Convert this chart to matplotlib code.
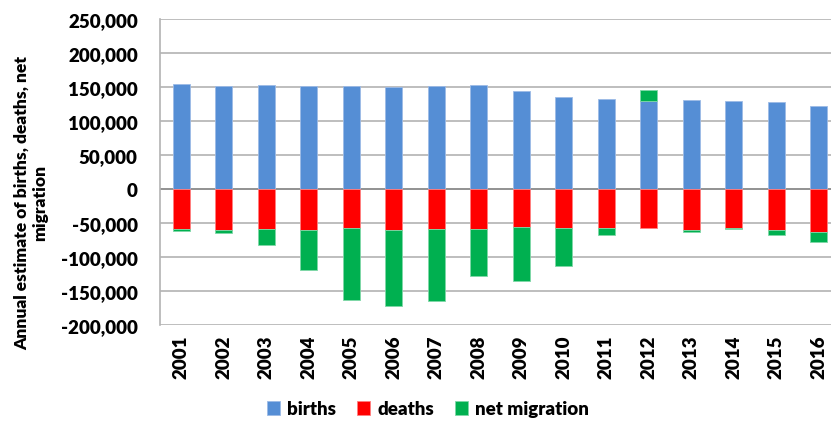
import numpy as np
import matplotlib
matplotlib.use("Agg")
import matplotlib.pyplot as plt
from matplotlib.ticker import FuncFormatter

years = [str(y) for y in range(2001, 2017)]
births = [154900, 151900, 152900, 151900, 151900, 150400, 151900, 152400,
          144100, 135700, 132800, 129400, 131300, 129400, 128400, 122500]
deaths = [-58400, -59900, -58800, -60300, -57900, -59900, -58400, -58800,
          -56500, -57000, -57000, -57400, -59900, -57000, -60300, -62800]
net_migration = [-3900, -4800, -24100, -58800, -105900, -111700, -106300, -69700,
                 -78400, -56200, -11200, 16600, -2900, -1800, -7300, -15100]

C_BIRTHS = "#558ed5"; C_DEATHS = "#ff0000"; C_MIG = "#00b050"

plt.rcParams.update({"font.family": ["Lato", "DejaVu Sans"], "font.weight": "heavy"})

fig = plt.figure(figsize=(8.31, 4.27), dpi=100)
ax = fig.add_axes([160 / 831, 1 - 326 / 427, 671 / 831, 306 / 427])

x = np.arange(len(years))
b = np.array(births); d = np.array(deaths); m = np.array(net_migration)
w = 0.4
ax.bar(x, b, w, color=C_BIRTHS, edgecolor="#9dbbe6", lw=0.6, label="births", zorder=3)
ax.bar(x, d, w, color=C_DEATHS, edgecolor="#ff8080", lw=0.6, label="deaths", zorder=3)
ax.bar(x, m, w, bottom=np.where(m < 0, d, b), color=C_MIG, edgecolor="#7fd7a7", lw=0.6,
       label="net migration", zorder=3)

ax.set_ylim(-200000, 250000)
ax.set_xlim(-0.5, 15.29)
ax.set_yticks(np.arange(-200000, 250001, 50000))
ax.yaxis.set_major_formatter(FuncFormatter(lambda v, p: f"{int(v):,}"))
ax.set_xticks(x)
ax.set_xticklabels(years, rotation=90)
ax.tick_params(axis="both", length=0, labelsize=13.5)
ax.tick_params(axis="y", pad=16)
ax.tick_params(axis="x", pad=7)
for t in ax.get_xticklabels() + ax.get_yticklabels():
    t.set_fontweight("heavy")
ax.grid(axis="y", color="#b3b3b3", lw=1.2, zorder=0)
ax.axhline(0, color="#8c8c8c", lw=1.2, zorder=2)
for s in ("top", "right", "bottom"):
    ax.spines[s].set_visible(False)
ax.spines["left"].set_color("#b3b3b3")
ax.spines["left"].set_linewidth(1.2)

fig.text(31 / 831, 1 - 203 / 427, "Annual estimate of births, deaths, net\nmigration",
         rotation=90, ha="center", va="center", ma="center", fontsize=12.5,
         fontweight="heavy", linespacing=1.2)

fig.legend(loc="center", bbox_to_anchor=(0.515, 1 - 410 / 427), ncol=3, frameon=False,
           fontsize=13.5, handlelength=0.7, handleheight=0.7, handletextpad=0.4,
           columnspacing=1.1, prop={"weight": "heavy", "size": 13.5})

fig.savefig("out.png", dpi=100)
